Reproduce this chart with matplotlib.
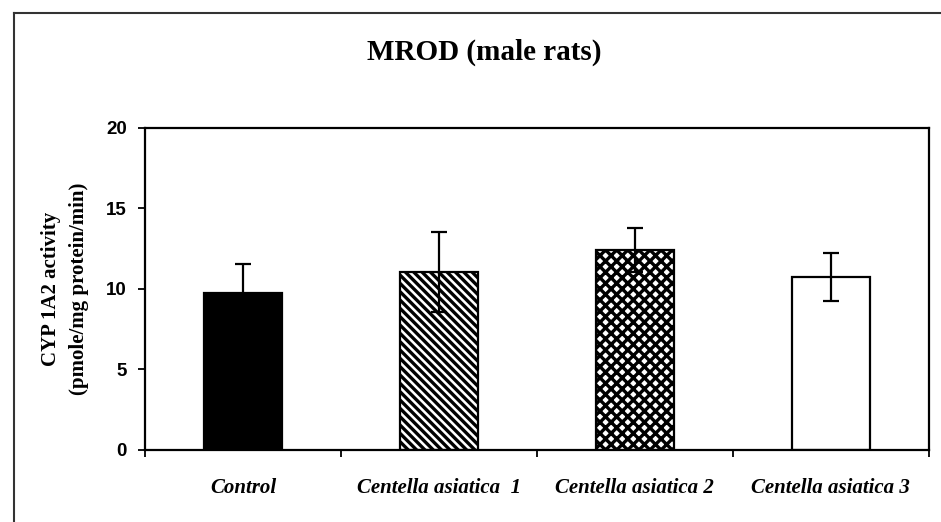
import numpy as np
import matplotlib
matplotlib.use("Agg")
import matplotlib.pyplot as plt
from matplotlib.lines import Line2D

# data
groups = ["Control", "Centella asiatica  1", "Centella asiatica 2", "Centella asiatica 3"]
activity = [9.75, 11.05, 12.42, 10.75]
sem = [1.8, 2.5, 1.38, 1.47]
hatches = ["", "\\\\\\\\", "xxx", ""]
faces = ["black", "white", "white", "white"]

plt.rcParams["hatch.linewidth"] = 2.4

fig = plt.figure(figsize=(9.41, 5.22), dpi=100)
ax = fig.add_axes([0.154, 0.138, 0.833, 0.617])

x = np.arange(len(groups)) + 0.5
ax.bar(x, activity, width=0.4, color=faces, edgecolor="black",
       linewidth=1.6, hatch=hatches, zorder=2)
ax.errorbar(x, activity, yerr=sem, fmt="none", ecolor="black",
            elinewidth=1.6, capsize=6, capthick=1.6, zorder=3)

ax.set_xlim(0, len(groups))
ax.set_ylim(0, 20)
ax.set_yticks([0, 5, 10, 15, 20])
ax.set_xticks(np.arange(len(groups) + 1))
ax.set_xticklabels([])
ax.set_xticks(x, minor=True)
ax.set_xticklabels(groups, minor=True, family="Liberation Serif",
                   fontweight="bold", fontstyle="italic", fontsize=15)
ax.tick_params(axis="x", which="minor", length=0, pad=20)
ax.tick_params(axis="x", which="major", direction="out", length=5, width=1.3)
ax.tick_params(axis="y", direction="out", length=5, width=1.3, pad=8)
for lab in ax.get_yticklabels():
    lab.set_family("Liberation Sans")
    lab.set_fontweight("bold")
    lab.set_fontsize(13.5)

for s in ax.spines.values():
    s.set_linewidth(1.6)

ax.set_ylabel("CYP 1A2 activity\n(pmole/mg protein/min)", family="Liberation Serif",
              fontweight="bold", fontsize=15, linespacing=1.55, labelpad=12)

fig.text(0.515, 0.9, "MROD (male rats)", ha="center", va="center",
         family="Liberation Serif", fontweight="bold", fontsize=21)

# outer frame of the scanned figure
fig.add_artist(Line2D([0.015, 1.0], [0.975, 0.975], color="#333333", lw=1.5))
fig.add_artist(Line2D([0.015, 0.015], [0.0, 0.975], color="#333333", lw=1.5))

fig.savefig("out.png", dpi=100)
